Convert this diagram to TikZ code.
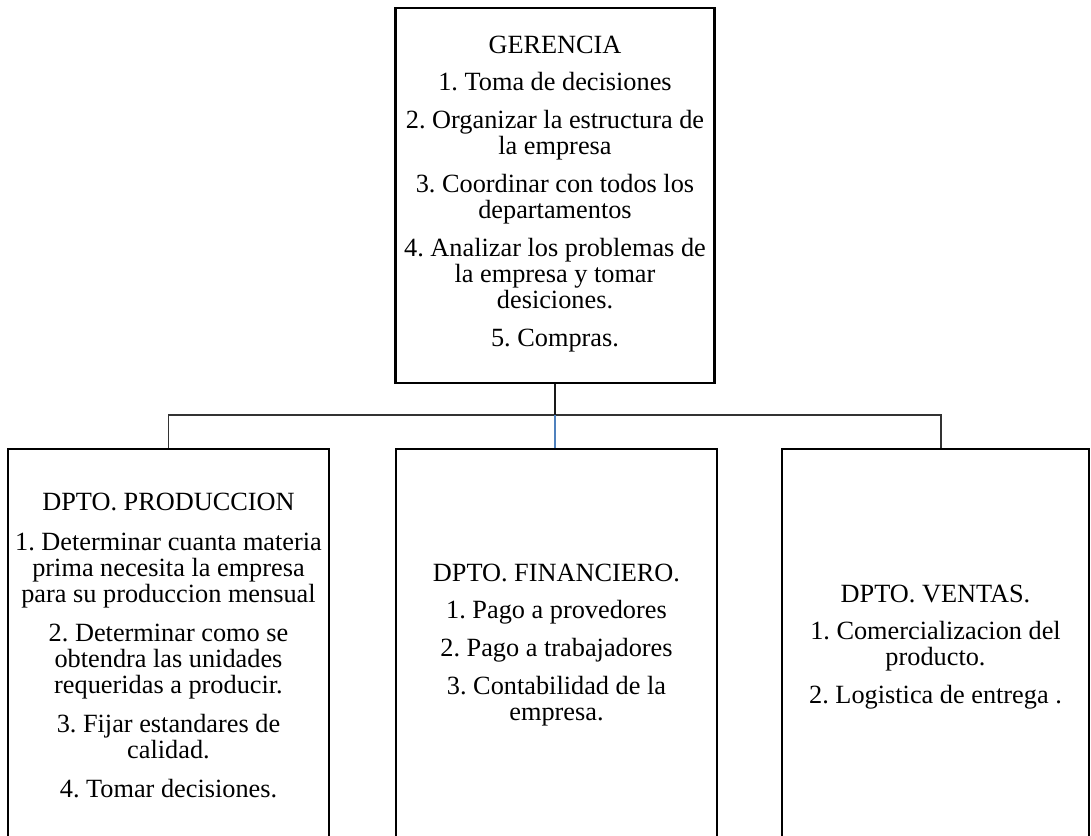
\documentclass[tikz,border=0pt]{standalone}
\usepackage{fontspec}
\setmainfont{Liberation Serif}
\frenchspacing
\definecolor{linkblue}{RGB}{79,129,189}
\tikzset{
  box/.style={draw=black, line width=2.4pt, align=center, inner sep=0pt,
              font=\fontsize{26.3}{26}\selectfont},
  conn/.style={draw=black!80, line width=1.3pt}
}
\begin{document}
\begin{tikzpicture}[x=1pt,y=1pt]
                    \useasboundingbox (0,0) rectangle (1091,-835);
                    \clip (0,0) rectangle (1091,-835);
                    % top box
                    \node [box, minimum width=319, minimum height=375] (gerencia) at (555,-195.5)
                        {GERENCIA\\[11pt] 1. Toma de decisiones\\[12pt] 2. Organizar la estructura de\\ la empresa\\[12pt]
                         3. Coordinar con todos los\\ departamentos\\[12pt] 4. Analizar los problemas de\\
                         la empresa y tomar\\ desiciones.\\[12pt] 5. Compras.\\[-18pt]};
                    % departments
                    \node [box, minimum width=321, minimum height=392] (produccion) at (168.5,-645)
                        {DPTO. PRODUCCION\\[14pt] 1. Determinar cuanta materia\\ prima necesita la empresa\\
                         para su produccion mensual\\[13pt] 2. Determinar como se\\ obtendra las unidades\\
                         requeridas a producir.\\[13pt] 3. Fijar estandares de\\ calidad.\\[13pt] 4. Tomar decisiones.};
                    \node [box, minimum width=321, minimum height=392] (financiero) at (556.5,-645)
                        {DPTO. FINANCIERO.\\[11pt] 1. Pago a provedores\\[12pt] 2. Pago a trabajadores\\[12pt]
                         3. Contabilidad de la\\ empresa.};
                    \node [box, minimum width=307, minimum height=392] (ventas) at (935.5,-645)
                        {\mbox{}\\[-4pt] DPTO. VENTAS.\\[11pt] 1. Comercializacion del\\ producto.\\[12pt] 2. Logistica de entrega .};
                    % connectors
                    \coordinate (bar) at (555,-415);
                    \draw [conn] (produccion.north) |- (bar) -| ([xshift=5.5pt]ventas.north);
                    \draw [conn, draw=black!90] (gerencia.south) -- (bar);
                    \draw [conn, draw=linkblue, line width=2pt] (bar) -- (bar |- financiero.north);
                \end{tikzpicture}
\end{document}
